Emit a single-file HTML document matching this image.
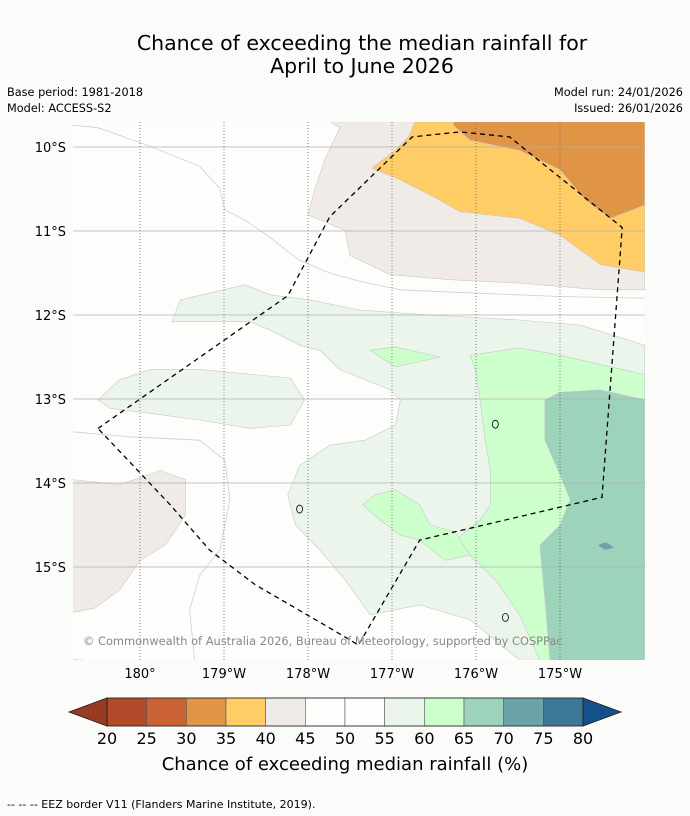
<!DOCTYPE html>
<html><head><meta charset="utf-8"><style>
body{margin:0;background:#fbfcfa;font-family:"Liberation Sans","DejaVu Sans",sans-serif;}
svg{display:block}
</style></head><body>
<svg id="chart" width="690" height="816" viewBox="0 0 690 816" xmlns="http://www.w3.org/2000/svg" font-family="DejaVu Sans, Liberation Sans, sans-serif">
<rect width="690" height="816" fill="#fbfcfa"/>
<text x="362" y="50" font-size="20.5" text-anchor="middle" fill="#000">Chance of exceeding the median rainfall for</text>
<text x="362" y="73" font-size="20.5" text-anchor="middle" fill="#000">April to June 2026</text>
<text x="7" y="96" font-size="11.3">Base period: 1981-2018</text>
<text x="7" y="112" font-size="11.3">Model: ACCESS-S2</text>
<text x="683" y="96" font-size="11.3" text-anchor="end">Model run: 24/01/2026</text>
<text x="683" y="112" font-size="11.3" text-anchor="end">Issued: 26/01/2026</text>
<defs><clipPath id="mapclip"><rect x="73" y="122" width="572" height="538"/></clipPath></defs>
<g id="map" clip-path="url(#mapclip)"></g>
<g id="axes"></g>
<text x="83" y="645" font-size="11.4" fill="#888">© Commonwealth of Australia 2026, Bureau of Meteorology, supported by COSPPac</text>
<g id="cbar"></g>
<text x="345" y="770" font-size="18" text-anchor="middle">Chance of exceeding median rainfall (%)</text>
<text x="7" y="808" font-size="11">--  --  -- EEZ border V11 (Flanders Marine Institute, 2019).</text>
</svg>
<script>
const NS="http://www.w3.org/2000/svg";
// Colorbar data
const levels=[20,25,30,35,40,45,50,55,60,65,70,75,80];
const colors=["#b34a29","#cb6234","#e09445","#ffcc66","#f0ebe6","#fdfdfb","#fdfdfb","#ebf5eb","#ccffcc","#9dd3bb","#6aa3a8","#3d7896"];
const underColor="#9a3a22", overColor="#15508a";
// Axis ticks
const lonTicks=[180,181,182,183,184,185];
const lonLabels=["180°","179°W","178°W","177°W","176°W","175°W"];
const latTicks=[-10,-11,-12,-13,-14,-15];
const latLabels=["10°S","11°S","12°S","13°S","14°S","15°S"];
// Contour regions (lon east 0-360, lat)
const orangeRegion=[[183.73,-9.70],[186.01,-9.70],[186.01,-10.69],[185.60,-10.85],[185.30,-10.63],[185.0,-10.27],[184.52,-10.04],[183.93,-9.92],[183.73,-9.74]];
const yellowRegion=[[183.27,-9.70],[186.01,-9.70],[186.01,-11.49],[185.48,-11.40],[185.0,-11.05],[184.52,-10.85],[183.81,-10.77],[183.45,-10.57],[183.10,-10.39],[182.76,-10.25],[183.04,-10.04],[183.21,-9.86]];
const beigeTop=[[182.26,-9.70],[182.38,-9.77],[182.20,-10.15],[182.08,-10.51],[182.0,-10.81],[182.44,-10.99],[182.5,-11.29],[182.98,-11.52],[183.69,-11.58],[184.52,-11.62],[185.48,-11.70],[186.01,-11.70],[186.01,-9.70]];
const beigeLeft=[[179.20,-13.96],[179.76,-14.02],[180.24,-13.85],[180.54,-13.96],[180.54,-14.38],[180.30,-14.74],[180.0,-14.92],[179.76,-15.27],[179.46,-15.49],[179.20,-15.54]];
const lightGreenMain=[[180.38,-12.08],[180.48,-11.82],[181.25,-11.64],[181.55,-11.76],[182.02,-11.82],[182.62,-11.94],[183.45,-12.0],[184.52,-12.06],[185.24,-12.12],[186.01,-12.36],[186.01,-16.11],[184.52,-16.11],[183.93,-15.63],[183.33,-15.45],[182.74,-15.57],[182.44,-15.15],[182.14,-14.80],[181.85,-14.50],[181.76,-14.14],[181.90,-13.79],[182.26,-13.55],[182.68,-13.49],[183.04,-13.31],[183.10,-13.01],[182.98,-12.89],[182.38,-12.65],[182.14,-12.42],[181.90,-12.36],[181.55,-12.18],[181.31,-12.08]];
const lightGreenLeft=[[179.50,-13.01],[179.76,-12.77],[180.12,-12.65],[180.71,-12.65],[181.79,-12.75],[181.96,-13.01],[181.79,-13.31],[181.31,-13.35],[180.71,-13.25],[180.12,-13.17],[179.64,-13.11]];
const brightGreenMain=[[183.93,-12.48],[184.52,-12.39],[185.0,-12.48],[186.01,-12.71],[186.01,-16.11],[184.76,-16.11],[184.52,-15.57],[184.23,-15.15],[183.93,-14.86],[183.75,-14.68],[184.05,-14.44],[184.17,-14.26],[184.17,-13.85],[184.11,-13.49],[184.05,-13.01],[183.99,-12.65]];
const brightGreenLeft=[[182.65,-14.26],[182.80,-14.14],[183.04,-14.08],[183.33,-14.26],[183.45,-14.50],[183.75,-14.58],[183.93,-14.86],[183.63,-14.92],[183.33,-14.68],[183.10,-14.62],[182.86,-14.44]];
const brightGreenSmall=[[182.74,-12.42],[183.04,-12.38],[183.57,-12.50],[183.04,-12.62]];
const tealRegion=[[184.82,-13.01],[185.0,-12.92],[185.48,-12.89],[186.01,-13.01],[186.01,-16.11],[184.88,-16.11],[184.82,-15.39],[184.76,-14.74],[185.0,-14.50],[185.12,-14.20],[185.0,-13.90],[184.82,-13.49]];
const tealSmall=[[185.44,-14.74],[185.54,-14.70],[185.66,-14.77],[185.54,-14.80]];
const contourLines=[
 [[179.20,-9.74],[179.50,-9.77],[180.12,-9.99],[180.71,-10.23],[180.95,-10.49],[181.01,-10.75],[181.25,-10.87],[181.55,-11.08],[181.90,-11.35],[182.26,-11.50],[182.62,-11.60],[183.10,-11.70],[184.0,-11.74],[185.0,-11.78],[186.01,-11.80]],
 [[179.20,-13.39],[179.88,-13.45],[180.71,-13.49],[181.01,-13.73],[181.07,-14.20],[180.95,-14.80],[180.71,-15.10],[180.59,-15.51],[180.65,-16.11]],
 [[179.20,-16.10],[179.60,-16.13]]
];
const eezBorder=[[179.50,-13.35],[181.76,-11.77],[182.26,-10.83],[183.24,-9.88],[183.81,-9.82],[184.40,-9.88],[185.74,-10.96],[185.50,-14.17],[183.33,-14.68],[182.60,-15.93],[182.42,-15.82],[181.37,-15.21],[180.83,-14.80],[180.36,-14.26],[179.50,-13.35]];
const islands=[[184.23,-13.30],[181.90,-14.31],[184.35,-15.60]];

const x=lon=>140+(lon-180)*84;
const y=lat=>147+(-10-lat)*84;
const pts=a=>a.map(p=>x(p[0]).toFixed(1)+","+y(p[1]).toFixed(1)).join(" ");
const map=document.getElementById("map");
function el(tag,attrs,parent){const e=document.createElementNS(NS,tag);for(const k in attrs)e.setAttribute(k,attrs[k]);parent.appendChild(e);return e;}

const bg=el("rect",{x:73,y:122,width:572,height:538,fill:colors[5]},map);


const regions=[[beigeTop,4,"region-40-45-north"],[beigeLeft,4,"region-40-45-west"],[yellowRegion,3,"region-35-40"],[orangeRegion,2,"region-30-35"],[lightGreenMain,7,"region-55-60-main"],[lightGreenLeft,7,"region-55-60-west"],[brightGreenMain,8,"region-60-65-east"],[brightGreenLeft,8,"region-60-65-south"],[brightGreenSmall,8,"region-60-65-small"],[tealRegion,9,"region-65-70"],[tealSmall,10,"region-70-75"]];
regions.forEach(r=>{
 const p=el("polygon",{points:pts(r[0]),fill:colors[r[1]],stroke:"#c8c8c8","stroke-width":0.6},map);
 
 
});
contourLines.forEach(c=>{
 const l=el("polyline",{points:pts(c),fill:"none",stroke:"#cfcfcf","stroke-width":0.8},map);
 
 
});
islands.forEach(i=>{
 const e=el("ellipse",{cx:x(i[0]),cy:y(i[1]),rx:3,ry:4,fill:"none",stroke:"#000","stroke-width":0.8},map);
 
 
});
latTicks.forEach(t=>{
 const l=el("line",{x1:73,x2:645,y1:y(t),y2:y(t),stroke:"#b0b0b0","stroke-width":0.7},map);
 
 
});
lonTicks.forEach(t=>{
 const l=el("line",{x1:x(t),x2:x(t),y1:122,y2:660,stroke:"#666","stroke-width":0.8,"stroke-dasharray":"1,2"},map);
 
 
});
const eez=el("polyline",{points:pts(eezBorder),fill:"none",stroke:"#000","stroke-width":1.3,"stroke-dasharray":"5,4"},map);



const axes=document.getElementById("axes");
latTicks.forEach((t,i)=>{
 const tx=el("text",{x:66,y:y(t)+5,"font-size":13,"text-anchor":"end"},axes);
 tx.textContent=latLabels[i];
 
 
});
lonTicks.forEach((t,i)=>{
 const tx=el("text",{x:x(t),y:678,"font-size":13,"text-anchor":"middle"},axes);
 tx.textContent=lonLabels[i];
 
 
});

const cb=document.getElementById("cbar");
const cx0=107,cx1=583,cy0=698,cy1=726;
const cw=(cx1-cx0)/colors.length;
colors.forEach((c,i)=>{
 const r=el("rect",{x:cx0+i*cw,y:cy0,width:cw,height:cy1-cy0,fill:c,stroke:"#555","stroke-width":0.6},cb);
 
 
});
const lt=el("polygon",{points:`${cx0},${cy0} ${cx0},${cy1} 69,${(cy0+cy1)/2}`,fill:underColor,stroke:"#222","stroke-width":0.8},cb);


const rt=el("polygon",{points:`${cx1},${cy0} ${cx1},${cy1} 621,${(cy0+cy1)/2}`,fill:overColor,stroke:"#222","stroke-width":0.8},cb);


const ob=el("rect",{x:cx0,y:cy0,width:cx1-cx0,height:cy1-cy0,fill:"none",stroke:"#222","stroke-width":0.8},cb);


levels.forEach((v,i)=>{
 const tx=el("text",{x:cx0+i*cw,y:744,"font-size":16,"text-anchor":"middle"},cb);
 tx.textContent=v;
 
 
});
</script>
</body></html>
